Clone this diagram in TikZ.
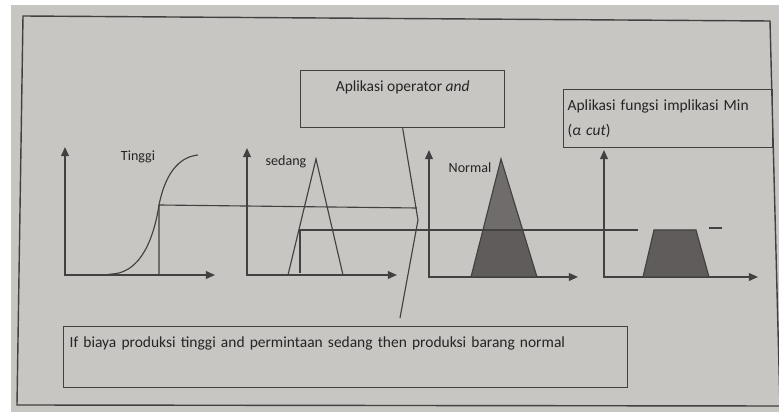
\documentclass[tikz,border=0pt]{standalone}
\usepackage{fontspec}
\setmainfont{Carlito}
\usetikzlibrary{arrows.meta, calc}
\definecolor{paper}{RGB}{200,198,195}
\definecolor{ink}{RGB}{66,64,64}
\definecolor{lettering}{RGB}{38,36,36}
\definecolor{cutfill}{RGB}{96,92,92}
\definecolor{topfill}{RGB}{112,108,108}

\tikzset{
  panel/.style={draw=ink, line width=0.9pt, inner sep=0pt, text=lettering, font=\fontsize{11}{13}\selectfont},
  axis/.style={ink, line width=1.2pt, {Triangle[length=6.5pt, width=5.5pt]}-{Triangle[length=6.5pt, width=5.5pt]}},
  mf/.style={ink, line width=0.8pt},
  cut/.style={ink, line width=0.8pt},
  setlabel/.style={font=\fontsize{10}{12}\selectfont, text=lettering, inner sep=0pt},
}

\begin{document}
\begin{tikzpicture}[x=0.025cm, y=-0.025cm]
  \useasboundingbox (0,0) rectangle (779,412);

  % Paper and outer frame
  \fill[white] (0,0) rectangle (779,412);
  \fill[paper] (11,5) rectangle (779,412);
  \draw[ink, line width=1pt] (23,16) -- (770,21) -- (780,406) -- (17,405) -- cycle;

  % Text boxes
  \node[panel, anchor=north west, minimum width=5.1cm, text height=0.525cm, text depth=0.9cm]
    (andbox) at (300,70) {Aplikasi operator \textit{and}};
  \node[panel, anchor=north west, text width=5.025cm, inner xsep=0.1cm, minimum height=1.45cm,
    align=left, font=\fontsize{11}{17.8}\selectfont]
    (minbox) at (563,89) {Aplikasi fungsi implikasi Min\\(\textit{α cut})};
  \node[panel, anchor=north west, text width=13.8cm, inner xsep=0.15cm, text height=0.525cm,
    text depth=1cm, align=left]
    (rulebox) at (63,326) {If biaya produksi tinggi and permintaan sedang then produksi barang normal};

  % Axes
  \foreach \xo/\yo/\ytop/\xend in {65/275/147/215, 247/275/148/397, 429/277/150/578, 604/277/150/758} {
    \draw[axis] (\xo,\ytop) -- (\xo,\yo) -- (\xend,\yo);
  }

  % Set labels
  \node[setlabel] (tinggi) at (138,157) {Tinggi};
  \node[setlabel] (sedang) at (286,162) {sedang};
  \node[setlabel] (normal) at (470,168) {Normal};

  % Membership functions
  \draw[mf] (104,275) -- (112,274) .. controls (135,273) and (152,250) .. (159,205)
    .. controls (165,175) and (178,157) .. (198,155);
  \draw[mf] (288,275) -- (316,159) -- (343,275);
  \fill[cutfill] (471,277) -- (501,159) -- (537,277) -- cycle;
  \fill[topfill] (483,230) -- (501,159) -- (523,230) -- cycle;
  \draw[mf] (471,277) -- (501,159) -- (537,277) -- cycle;
  \filldraw[mf, fill=cutfill] (643,277) -- (654,230) -- (696,230) -- (709,277) -- cycle;

  % Degree lines
  \draw[cut] (159,275) -- (159,205) -- (417,208);
  \draw[cut] (300,273) -- (300,230) -- (638,230);
  \draw[cut] (709,228) -- (722,228);

  % Pointer from the and-operator box
  \coordinate (bend) at (418,220);
  \coordinate (zend) at (400,318);
  \draw[cut] (andbox.south) -- (bend) -- (zend);
\end{tikzpicture}
\end{document}
